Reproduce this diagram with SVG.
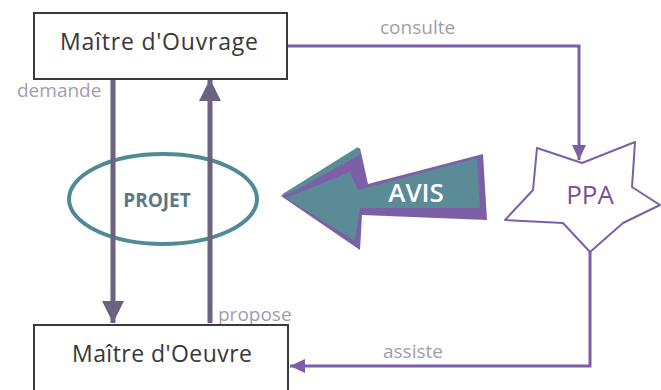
<svg xmlns="http://www.w3.org/2000/svg" width="661" height="390" viewBox="0 0 661 390">
<style>
.box{fill:#fff;stroke:#3a3a3a;stroke-width:2}
.boxt{font-family:"Open Sans",sans-serif;font-size:23px;fill:#383838}
.lbl{font-family:"Open Sans",sans-serif;font-size:19px;fill:#a29cad}
.pl{fill:none;stroke:#7d5fa8;stroke-width:3}
.dl{fill:none;stroke:#6d6380;stroke-width:5}
</style>
<defs>
<marker id="ad" markerUnits="userSpaceOnUse" markerWidth="24" markerHeight="24" refX="22" refY="11" orient="auto">
<path d="M0,0 L22,11 L0,22 Z" fill="#6d6380"/>
</marker>
<marker id="ap" markerUnits="userSpaceOnUse" markerWidth="16" markerHeight="16" refX="15" refY="7" orient="auto">
<path d="M0,0 L15,7 L0,14 Z" fill="#7d5fa8"/>
</marker>
</defs>
<g id="projet">
<ellipse cx="163" cy="199" rx="94" ry="45" fill="#fff" stroke="#4f8a95" stroke-width="4"/>
<text x="157" y="207" text-anchor="middle" font-family="Open Sans,sans-serif" font-size="19" font-weight="bold" fill="#5a7883">PROJET</text>
</g>
<g id="connectors">
<path class="pl" d="M287 46 H579 V160" marker-end="url(#ap)"/>
<path class="pl" d="M590 252 V366 H290" marker-end="url(#ap)"/>
<path class="dl" d="M113 79 V323" marker-end="url(#ad)"/>
<path class="dl" d="M210 323 V79" marker-end="url(#ad)"/>
<text class="lbl" x="380" y="34">consulte</text>
<text class="lbl" x="383" y="358">assiste</text>
<text class="lbl" x="17" y="97">demande</text>
<text class="lbl" x="218" y="321">propose</text>
</g>
<g id="maitre-ouvrage">
<rect class="box" x="34" y="13" width="253" height="66"/>
<text class="boxt" x="60" y="50" textLength="198" lengthAdjust="spacing">Maître d'Ouvrage</text>
</g>
<g id="maitre-oeuvre">
<rect class="box" x="34" y="325" width="254" height="70"/>
<text class="boxt" x="72" y="362" textLength="180" lengthAdjust="spacing">Maître d'Oeuvre</text>
</g>
<g id="avis">
<polygon points="281,196 360,148 368,184 483,154 487,220 362,215 360,250" fill="#7d5fa8"/>
<polygon points="286,198 350,172 358,190 477,158 480,208 360,208 355,241" fill="#5a8b96"/>
<polygon points="281,195 358,147 361,154 291,193" fill="#5a8b96"/>
<text x="416" y="202" text-anchor="middle" font-family="Open Sans,sans-serif" font-size="26" font-weight="600" fill="#fff">AVIS</text>
</g>
<g id="ppa">
<polygon points="537,148 582,163 635,142 632,187 660,205 623,223 590,252 563,223 505,220 533,190" fill="#fff" stroke="#7d5fa8" stroke-width="2" stroke-linejoin="round"/>
<text x="590" y="204" text-anchor="middle" font-family="Open Sans,sans-serif" font-size="26" fill="#7a4f9a">PPA</text>
</g>
</svg>
